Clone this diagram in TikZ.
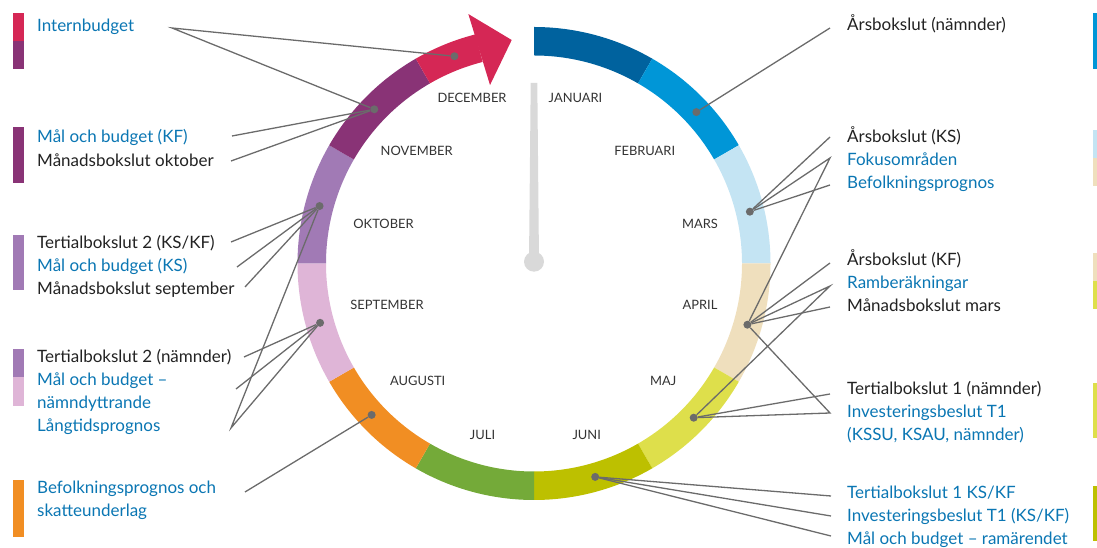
\documentclass[tikz,border=0pt]{standalone}
\usepackage{fontspec}
\setmainfont{Lato}
\usepackage{tikz}

\definecolor{jan}{HTML}{00629E}
\definecolor{feb}{HTML}{0096D7}
\definecolor{mar}{HTML}{C4E4F3}
\definecolor{apr}{HTML}{EFDFBD}
\definecolor{maj}{HTML}{DEDF4B}
\definecolor{jun}{HTML}{BDC000}
\definecolor{jul}{HTML}{74AA39}
\definecolor{aug}{HTML}{F18E23}
\definecolor{sep}{HTML}{DFB5D7}
\definecolor{okt}{HTML}{A17AB5}
\definecolor{nov}{HTML}{893376}
\definecolor{dec}{HTML}{D52755}
\definecolor{textblue}{HTML}{0A76B3}
\definecolor{textblack}{HTML}{222222}
\definecolor{leadergray}{HTML}{6B6B6B}
\definecolor{needlegray}{HTML}{D9D9D9}

\begin{document}
\begin{tikzpicture}[x=1pt,y=1pt,
    leader/.style={draw=leadergray,line width=1.3pt},
    dot/.style={circle,fill=leadergray,inner sep=0pt,minimum size=8pt},
    mon/.style={anchor=base,inner sep=0pt,text=black!80,font=\fontsize{12.9}{15}\selectfont},
    blue/.style={anchor=base west,inner sep=0pt,text=textblue,font=\fontsize{17}{20}\selectfont},
    black/.style={anchor=base west,inner sep=0pt,text=textblack,font=\fontsize{17}{20}\selectfont}]
    \useasboundingbox (0,0) rectangle (1097,548);

    %%%%%%%%%%%%%%%%%%%%%%%%%%%%%%%%%%%
    % the wheel
    \begin{scope}[shift={(534,284.5)}]
        \fill[jan] (90:236.5) arc[start angle=90, end angle=60, radius=236.5] -- (60:208) arc[start angle=60, end angle=90, radius=208] -- cycle;
        \fill[feb] (60:236.5) arc[start angle=60, end angle=30, radius=236.5] -- (30:208) arc[start angle=30, end angle=60, radius=208] -- cycle;
        \fill[mar] (30:236.5) arc[start angle=30, end angle=0, radius=236.5] -- (0:208) arc[start angle=0, end angle=30, radius=208] -- cycle;
        \fill[apr] (0:236.5) arc[start angle=0, end angle=-30, radius=236.5] -- (-30:208) arc[start angle=-30, end angle=0, radius=208] -- cycle;
        \fill[maj] (-30:236.5) arc[start angle=-30, end angle=-60, radius=236.5] -- (-60:208) arc[start angle=-60, end angle=-30, radius=208] -- cycle;
        \fill[jun] (-60:236.5) arc[start angle=-60, end angle=-90, radius=236.5] -- (-90:208) arc[start angle=-90, end angle=-60, radius=208] -- cycle;
        \fill[jul] (-90:236.5) arc[start angle=-90, end angle=-120, radius=236.5] -- (-120:208) arc[start angle=-120, end angle=-90, radius=208] -- cycle;
        \fill[aug] (-120:236.5) arc[start angle=-120, end angle=-150, radius=236.5] -- (-150:208) arc[start angle=-150, end angle=-120, radius=208] -- cycle;
        \fill[sep] (-150:236.5) arc[start angle=-150, end angle=-180, radius=236.5] -- (-180:208) arc[start angle=-180, end angle=-150, radius=208] -- cycle;
        \fill[okt] (180:236.5) arc[start angle=180, end angle=150, radius=236.5] -- (150:208) arc[start angle=150, end angle=180, radius=208] -- cycle;
        \fill[nov] (150:236.5) arc[start angle=150, end angle=120, radius=236.5] -- (120:208) arc[start angle=120, end angle=150, radius=208] -- cycle;
        % december with the arrow head
        \fill[dec] (120:236.5) arc[start angle=120, end angle=104.3, radius=236.5] -- (104.3:208) arc[start angle=104.3, end angle=120, radius=208] -- cycle;
        \fill[dec] (104.75:258) -- (95.7:224.6) -- (103.85:183.8) -- cycle;

        % needle
        \fill[needlegray] (-3.3,180.5) -- (3.3,180.5) -- (5,1.8) -- (-5,1.8) -- cycle;
        \fill[needlegray] (0,1.8) circle (10);

        % dots, one per month
        \node[dot] (2) at (43:222) {};
        \node[dot] (3) at (13.5:222) {};
        \node[dot] (4) at (-16:222) {};
        \node[dot] (5) at (-44:222) {};
        \node[dot] (6) at (-74:222) {};
        \node[dot] (8) at (223:222) {};
        \node[dot] (9) at (195.5:222) {};
        \node[dot] (10) at (165:222) {};
        \node[dot] (11) at (136:222) {};
        \node[dot] (12) at (111:222) {};
    \end{scope}

    % month names
    \node[mon] (m12) at (472,445.5) {DECEMBER};
    \node[mon] (m1) at (575.5,445.5) {JANUARI};
    \node[mon] (m11) at (416.7,392) {NOVEMBER};
    \node[mon] (m2) at (644.7,392) {FEBRUARI};
    \node[mon] (m10) at (383.5,319.7) {OKTOBER};
    \node[mon] (m3) at (700,319.7) {MARS};
    \node[mon] (m9) at (387,238) {SEPTEMBER};
    \node[mon] (m4) at (700,238) {APRIL};
    \node[mon] (m8) at (417.7,162) {AUGUSTI};
    \node[mon] (m5) at (663.3,162) {MAJ};
    \node[mon] (m7) at (482.5,108.7) {JULI};
    \node[mon] (m6) at (586.7,108.7) {JUNI};
    %%%%%%%%%%%%%%%%%%%%%%%%%%%%%%%%%%%

    %%%%%%%%%%%%%%%%%%%%%%%%%%%%%%%%%%%
    % left side
    \fill[dec] (13,507) rectangle (24,535);
    \fill[nov] (13,479) rectangle (24,507);
    \node[blue] (l1) at (37,516) {Internbudget};
    \coordinate (l1e) at (172,520);
    \draw[leader] (12) -- (l1e) -- (11);

    \fill[nov] (13,365) rectangle (24,421);
    \node[blue] (l2) at (37,405) {Mål och budget (KF)};
    \node[black] (l3) at (37,381) {Månadsbokslut oktober};
    \coordinate (l2e) at (232,412);
    \coordinate (l3e) at (231,387);
    \draw[leader] (11) -- (l2e);
    \draw[leader] (11) -- (l3e);

    \fill[okt] (13,258) rectangle (24,313);
    \node[black] (l4) at (37,299) {Tertialbokslut 2 (KS/KF)};
    \node[blue] (l5) at (37,276) {Mål och budget (KS)};
    \node[black] (l6) at (37,253) {Månadsbokslut september};
    \coordinate (l4e) at (231,306);
    \coordinate (l5e) at (237,281);
    \coordinate (l6e) at (245,261);
    \draw[leader] (10) -- (l4e);
    \draw[leader] (10) -- (l5e);
    \draw[leader] (10) -- (l6e);

    \fill[okt] (13,171) rectangle (24,199);
    \fill[sep] (13,142) rectangle (24,171);
    \node[black] (l7) at (37,185) {Tertialbokslut 2 (nämnder)};
    \node[blue] (l8) at (37,162) {Mål och budget –};
    \node[blue] (l9) at (37,139) {nämndyttrande};
    \node[blue] (l10) at (37,116) {Långtidsprognos};
    \coordinate (l7e) at (244,191);
    \coordinate (l8e) at (236,159);
    \coordinate (l10e) at (231,120);
    \draw[leader] (9) -- (l7e);
    \draw[leader] (9) -- (l8e);
    \draw[leader] (9) -- (l10e) -- (10);

    \fill[aug] (13,11) rectangle (24,68);
    \node[blue] (l11) at (37,54) {Befolkningsprognos och};
    \node[blue] (l12) at (37,31) {skatteunderlag};
    \coordinate (l11e) at (245,56);
    \draw[leader] (8) -- (l11e);
    %%%%%%%%%%%%%%%%%%%%%%%%%%%%%%%%%%%

    %%%%%%%%%%%%%%%%%%%%%%%%%%%%%%%%%%%
    % right side
    \fill[feb] (1093,479) rectangle (1097,535);
    \node[black] (r1) at (847,517) {Årsbokslut (nämnder)};
    \coordinate (r1e) at (830,520);
    \draw[leader] (2) -- (r1e);

    \fill[mar] (1093,390) rectangle (1097,418);
    \fill[apr] (1093,362) rectangle (1097,390);
    \node[black] (r2) at (847,405) {Årsbokslut (KS)};
    \node[blue] (r3) at (847,382) {Fokusområden};
    \node[blue] (r4) at (847,359) {Befolkningsprognos};
    \coordinate (r2e) at (830,411);
    \coordinate (r3e) at (830,390);
    \coordinate (r4e) at (830,363);
    \draw[leader] (3) -- (r2e);
    \draw[leader] (3) -- (r3e) -- (4);
    \draw[leader] (3) -- (r4e);

    \fill[apr] (1093,267) rectangle (1097,295);
    \fill[maj] (1093,239) rectangle (1097,267);
    \node[black] (r5) at (847,282) {Årsbokslut (KF)};
    \node[blue] (r6) at (847,259) {Ramberäkningar};
    \node[black] (r7) at (847,236) {Månadsbokslut mars};
    \coordinate (r5e) at (830,285);
    \coordinate (r6e) at (830,262);
    \coordinate (r7e) at (830,241);
    \draw[leader] (4) -- (r5e);
    \draw[leader] (4) -- (r6e) -- (5);
    \draw[leader] (4) -- (r7e);

    \fill[maj] (1093,110) rectangle (1097,165);
    \node[black] (r8) at (847,153) {Tertialbokslut 1 (nämnder)};
    \node[blue] (r9) at (847,130) {Investeringsbeslut T1};
    \node[blue] (r10) at (847,107) {(KSSU, KSAU, nämnder)};
    \coordinate (r8e) at (830,154);
    \coordinate (r9e) at (830,135);
    \draw[leader] (5) -- (r8e);
    \draw[leader] (5) -- (r9e) -- (4);

    \fill[jun] (1093,7) rectangle (1097,62);
    \node[blue] (r11) at (847,49) {Tertialbokslut 1 KS/KF};
    \node[blue] (r12) at (847,26) {Investeringsbeslut T1 (KS/KF)};
    \node[blue] (r13) at (847,3) {Mål och budget – ramärendet};
    \coordinate (r11e) at (831,52);
    \coordinate (r12e) at (831,32);
    \coordinate (r13e) at (831,12);
    \draw[leader] (6) -- (r11e);
    \draw[leader] (6) -- (r12e);
    \draw[leader] (6) -- (r13e);
    %%%%%%%%%%%%%%%%%%%%%%%%%%%%%%%%%%%
\end{tikzpicture}
\end{document}
